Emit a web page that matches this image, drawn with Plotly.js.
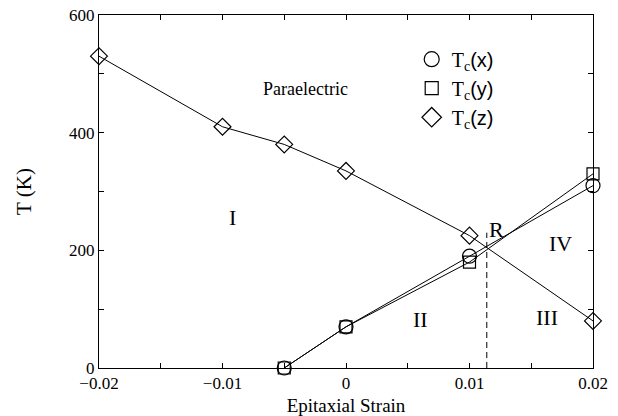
<!DOCTYPE html>
<html>
<head>
<meta charset="utf-8">
<script src="https://cdn.plot.ly/plotly-3.0.1.min.js"></script>
<style>html,body{margin:0;padding:0;background:#fff;}#chart{width:618px;height:416px;}</style>
</head>
<body>
<div id="chart"></div>
<script>
// Data
const strainX = [-0.005, 0, 0.01, 0.02];
const tcX = [0, 70, 190, 310];
const strainY = [-0.005, 0, 0.01, 0.02];
const tcY = [0, 70, 180, 330];
const strainZ = [-0.02, -0.01, -0.005, 0, 0.01, 0.02];
const tcZ = [530, 410, 380, 335, 225, 80];
const boundaryX = [0.0114, 0.0114];
const boundaryY = [0, 230];
const regionLabels = ["Paraelectric", "I", "II", "III", "IV", "R"];
const regionX = [-0.0033, -0.0092, 0.006, 0.0163, 0.0174, 0.0122];
const regionY = [474, 255, 82, 85, 211, 235];
const legendNames = ["T<sub>c</sub><span style=\"font-family:Liberation Sans\">(x)</span>",
                     "T<sub>c</sub><span style=\"font-family:Liberation Sans\">(y)</span>",
                     "T<sub>c</sub><span style=\"font-family:Liberation Sans\">(z)</span>"];

const serif = "Liberation Serif";
const lineStyle = {color: 'black', width: 1};

const traces = [
  {x: strainX, y: tcX, mode: 'lines+markers', line: lineStyle,
   marker: {symbol: 'circle-open', size: 14, color: 'black', line: {width: 1.2}},
   cliponaxis: false, showlegend: false},
  {x: strainY, y: tcY, mode: 'lines+markers', line: lineStyle,
   marker: {symbol: 'square-open', size: 12, color: 'black', line: {width: 1.2}},
   cliponaxis: false, showlegend: false},
  {x: strainZ, y: tcZ, mode: 'lines+markers', line: lineStyle,
   marker: {symbol: 'diamond-open', size: 13, color: 'black', line: {width: 1.2}},
   cliponaxis: false, showlegend: false},
  {x: boundaryX, y: boundaryY, mode: 'lines', line: {color: 'black', width: 1, dash: '6px,4px'},
   showlegend: false},
  {x: [null], y: [null], mode: 'markers', name: legendNames[0],
   marker: {symbol: 'circle-open', size: 15, color: 'black', line: {width: 1.2}}},
  {x: [null], y: [null], mode: 'markers', name: legendNames[1],
   marker: {symbol: 'square-open', size: 13, color: 'black', line: {width: 1.2}}},
  {x: [null], y: [null], mode: 'markers', name: legendNames[2],
   marker: {symbol: 'diamond-open', size: 15, color: 'black', line: {width: 1.2}}}
];

const annotations = regionLabels.map((t, i) => ({
  x: regionX[i], y: regionY[i], xref: 'x', yref: 'y', text: t, showarrow: false,
  font: {family: serif, size: i === 0 ? 18 : 22, color: 'black'}
}));

const axisCommon = {
  showgrid: false, zeroline: false, showline: true, linecolor: 'black', linewidth: 1,
  mirror: 'ticks', ticks: 'inside', ticklen: 5, tickcolor: 'black', tickwidth: 1,
  tickfont: {family: serif, size: 17, color: 'black'}
};

const layout = {
  width: 618, height: 416,
  margin: {l: 99, r: 25, t: 15, b: 48},
  paper_bgcolor: 'white', plot_bgcolor: 'white',
  font: {family: serif, color: 'black'},
  xaxis: Object.assign({}, axisCommon, {
    range: [-0.02, 0.02], tickvals: [-0.02, -0.01, 0, 0.01, 0.02],
    ticktext: ['\u22120.02', '\u22120.01', '0', '0.01', '0.02'],
    minor: {tickvals: [-0.015, -0.005, 0.005, 0.015], ticks: 'inside', ticklen: 5, tickcolor: 'black'},
    title: {text: 'Epitaxial Strain', font: {family: serif, size: 19, color: 'black'}, standoff: 6}
  }),
  yaxis: Object.assign({}, axisCommon, {
    range: [0, 600], tickvals: [0, 200, 400, 600],
    minor: {tickvals: [100, 300, 500], ticks: 'inside', ticklen: 5, tickcolor: 'black'},
    title: {text: 'T (K)', font: {family: serif, size: 21, color: 'black'}, standoff: 31}
  }),
  showlegend: true,
  legend: {x: 0.633, y: 0.93, xanchor: 'left', yanchor: 'top', bgcolor: 'rgba(0,0,0,0)',
           font: {family: serif, size: 20, color: 'black'}, itemwidth: 30, tracegroupgap: 0},
  annotations: annotations
};

Plotly.newPlot('chart', traces, layout, {displayModeBar: false, staticPlot: true});
</script>
</body>
</html>
